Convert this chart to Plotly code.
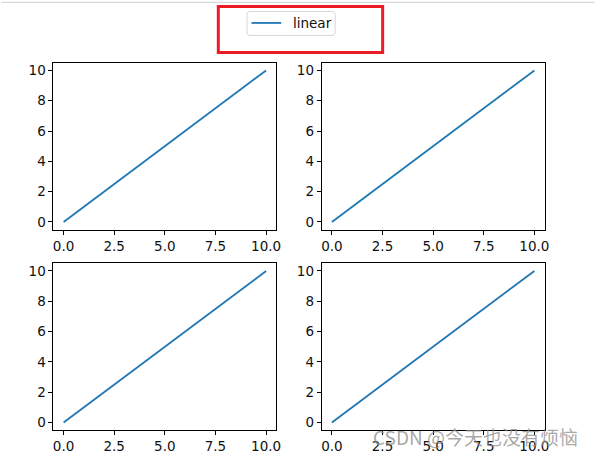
import plotly.graph_objects as go

x_values = [0, 1, 2, 3, 4, 5, 6, 7, 8, 9, 10]
y_values = [0, 1, 2, 3, 4, 5, 6, 7, 8, 9, 10]
series_name = "linear"
x_tickvals = [0, 2.5, 5, 7.5, 10]
x_ticktext = ["0.0", "2.5", "5.0", "7.5", "10.0"]
y_tickvals = [0, 2, 4, 6, 8, 10]
y_ticktext = ["0", "2", "4", "6", "8", "10"]
watermark = "CSDN @今天也没有烦恼"

W, H = 600, 458
FONT = "DejaVu Sans"
BLUE = "#1f77b4"

# panel boxes in pixels: (left, right, top, bottom)
cols = [(53, 278), (324, 549)]
rows = [(62, 229), (263, 430)]

def px(x):
    return x / W

def py(y):
    return 1 - y / H

fig = go.Figure()
idx = 0
for r, (t, b) in enumerate(rows):
    for c, (l, rr) in enumerate(cols):
        idx += 1
        xa = "xaxis" if idx == 1 else f"xaxis{idx}"
        ya = "yaxis" if idx == 1 else f"yaxis{idx}"
        xref = "x" if idx == 1 else f"x{idx}"
        yref = "y" if idx == 1 else f"y{idx}"
        fig.add_trace(go.Scatter(
            x=x_values, y=y_values, mode="lines", name=series_name,
            line=dict(color=BLUE, width=1.8),
            showlegend=False, xaxis=xref, yaxis=yref,
        ))
        common = dict(showline=True, linecolor="black", linewidth=1, mirror=True,
                      ticks="outside", ticklen=4, tickwidth=1, tickcolor="black",
                      showgrid=False, zeroline=False, range=[-0.5, 10.5],
                      tickfont=dict(family=FONT, size=13.5, color="#111"))
        fig.layout[xa] = dict(domain=[px(l), px(rr)], anchor=yref,
                              tickvals=x_tickvals, ticktext=x_ticktext, **common)
        fig.layout[ya] = dict(domain=[py(b), py(t)], anchor=xref,
                              tickvals=y_tickvals, ticktext=y_ticktext, **common)

# legend box drawn as a rounded rectangle
lx0, lx1, ly0, ly1, rad = 248.5, 337.5, 10.5, 34.5, 3
legend_path = (
    f"M{px(lx0 + rad)},{py(ly0)} L{px(lx1 - rad)},{py(ly0)} "
    f"Q{px(lx1)},{py(ly0)} {px(lx1)},{py(ly0 + rad)} "
    f"L{px(lx1)},{py(ly1 - rad)} Q{px(lx1)},{py(ly1)} {px(lx1 - rad)},{py(ly1)} "
    f"L{px(lx0 + rad)},{py(ly1)} Q{px(lx0)},{py(ly1)} {px(lx0)},{py(ly1 - rad)} "
    f"L{px(lx0)},{py(ly0 + rad)} Q{px(lx0)},{py(ly0)} {px(lx0 + rad)},{py(ly0)} Z"
)

fig.update_layout(
    width=W, height=H,
    margin=dict(l=0, r=0, t=0, b=0),
    paper_bgcolor="white", plot_bgcolor="white",
    showlegend=False,
    shapes=[
        dict(type="line", xref="paper", yref="paper", x0=0, x1=1,
             y0=py(1.3), y1=py(1.3), line=dict(color="#d0d0d0", width=1)),
        dict(type="path", xref="paper", yref="paper", path=legend_path,
             fillcolor="white", line=dict(color="#d6d6d6", width=1)),
        dict(type="line", xref="paper", yref="paper", x0=px(253), x1=px(283),
             y0=py(22), y1=py(22), line=dict(color=BLUE, width=1.8)),
        dict(type="rect", xref="paper", yref="paper", x0=px(219.5), x1=px(385.5),
             y0=py(51.5), y1=py(5.5), line=dict(color="#ED1C24", width=3)),
    ],
    annotations=[
        dict(text=series_name, xref="paper", yref="paper", x=px(293), y=py(22),
             xanchor="left", yanchor="middle", showarrow=False,
             font=dict(family=FONT, size=13.5, color="#111")),
        dict(text=watermark, xref="paper", yref="paper", x=px(479), y=py(436),
             xanchor="center", yanchor="middle", showarrow=False,
             font=dict(family="Noto Sans CJK SC", size=19, color="rgba(140,140,140,0.75)")),
    ],
)

fig.write_html(
    "out.html", config={"displayModeBar": False},
    post_script=("document.documentElement.style.overflow='hidden';"
                 "document.body.style.overflow='hidden';"
                 "document.body.style.margin='0';document.body.style.padding='0';"),
)
